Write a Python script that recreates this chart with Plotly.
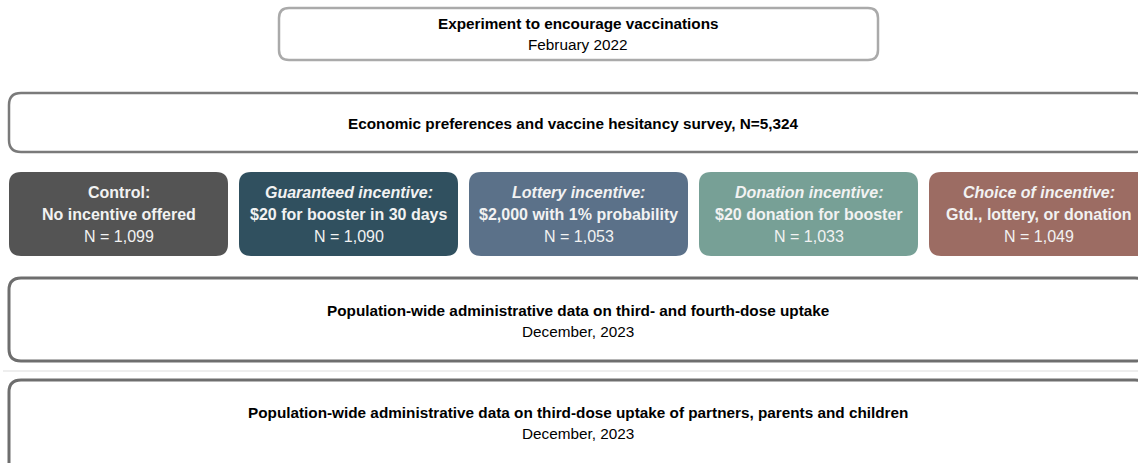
import plotly.graph_objects as go

W, H = 1138, 463

# ---- data ----
top_title = "Experiment to encourage vaccinations"
top_sub = "February 2022"
survey_title = "Economic preferences and vaccine hesitancy survey, N=5,324"
arm_heads = ["Control:", "Guaranteed incentive:", "Lottery incentive:",
             "Donation incentive:", "Choice of incentive:"]
arm_italic = [False, True, True, True, True]
arm_desc = ["No incentive offered", "$20 for booster in 30 days",
            "$2,000 with 1% probability", "$20 donation for booster",
            "Gtd., lottery, or donation"]
arm_n = ["N = 1,099", "N = 1,090", "N = 1,053", "N = 1,033", "N = 1,049"]
arm_colors = ["#545454", "#30505f", "#5b7189", "#77a096", "#9c6c63"]
out1_title = "Population-wide administrative data on third- and fourth-dose uptake"
out1_sub = "December, 2023"
out2_title = "Population-wide administrative data on third-dose uptake of partners, parents and children"
out2_sub = "December, 2023"

FONT = "Liberation Sans, Arial, sans-serif"
TS = 15.3   # title text size
BS = 16     # arm box text size


def rrect(x0, y0, x1, y1, r):
    return (f"M{x0+r},{y0} L{x1-r},{y0} Q{x1},{y0} {x1},{y0+r} "
            f"L{x1},{y1-r} Q{x1},{y1} {x1-r},{y1} L{x0+r},{y1} "
            f"Q{x0},{y1} {x0},{y1-r} L{x0},{y0+r} Q{x0},{y0} {x0+r},{y0} Z")


fig = go.Figure()
fig.add_trace(go.Scatter(x=[0, W], y=[0, H], mode="markers",
                         marker=dict(opacity=0), hoverinfo="skip", showlegend=False))

shapes = []
ann = []


def txt(x, y, s, size=14, color="#000", bold=False, italic=False):
    if bold:
        s = f"<b>{s}</b>"
    if italic:
        s = f"<i>{s}</i>"
    ann.append(dict(x=x, y=y, xref="x", yref="y", text=s, showarrow=False,
                    font=dict(family=FONT, size=size, color=color),
                    xanchor="center", yanchor="middle"))


# top box
shapes.append(dict(type="path", path=rrect(279, 8, 878, 60, 10),
                   line=dict(color="#aaaaaa", width=2.5), fillcolor="white",
                   xref="x", yref="y"))
txt(578, 23, top_title, TS, bold=True)
txt(578, 44, top_sub, TS)

# survey box
shapes.append(dict(type="path", path=rrect(9, 93, 1147, 152, 12),
                   line=dict(color="#7a7a7a", width=2.5), fillcolor="white",
                   xref="x", yref="y"))
txt(573, 123, survey_title, TS, bold=True)

# arm boxes
for i in range(len(arm_heads)):
    x0 = 9 + 230 * i
    x1 = x0 + 219
    cx = (x0 + x1) / 2
    shapes.append(dict(type="path", path=rrect(x0, 172, x1, 256, 12),
                       line=dict(width=0), fillcolor=arm_colors[i],
                       xref="x", yref="y"))
    txt(cx, 192, arm_heads[i], BS, color="#f2f2f2", bold=True,
        italic=arm_italic[i])
    txt(cx, 214, arm_desc[i], BS, color="#f2f2f2", bold=True)
    txt(cx, 236, arm_n[i], BS, color="#f2f2f2")

# outcome boxes
shapes.append(dict(type="path", path=rrect(9, 278, 1147, 361, 12),
                   line=dict(color="#6e6e6e", width=3), fillcolor="white",
                   xref="x", yref="y"))
txt(578, 310, out1_title, TS, bold=True)
txt(578, 331, out1_sub, TS)

shapes.append(dict(type="line", x0=3, x1=W, y0=371, y1=371,
                   line=dict(color="#dddddd", width=1), xref="x", yref="y"))

shapes.append(dict(type="path", path=rrect(9, 380, 1147, 475, 12),
                   line=dict(color="#6e6e6e", width=3), fillcolor="white",
                   xref="x", yref="y"))
txt(578, 412, out2_title, TS, bold=True)
txt(578, 433, out2_sub, TS)

fig.update_layout(
    width=W, height=H, margin=dict(l=0, r=0, t=0, b=0),
    paper_bgcolor="white", plot_bgcolor="white",
    xaxis=dict(range=[0, W], visible=False, fixedrange=True),
    yaxis=dict(range=[H, 0], visible=False, fixedrange=True),
    shapes=shapes, annotations=ann, showlegend=False,
)
fig.write_html("out.html", config={"displayModeBar": False},
               post_script="document.body.style.margin='0';document.body.style.overflow='hidden';")
